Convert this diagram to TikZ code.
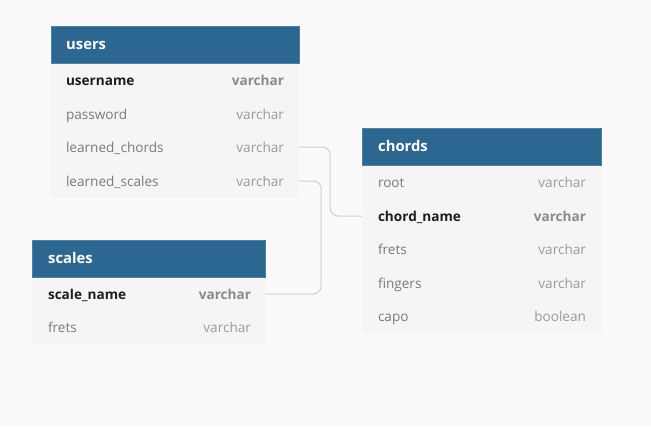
\documentclass[tikz,border=0pt]{standalone}
\usepackage{fontspec}
\setmainfont{Open Sans}
\definecolor{bgc}{HTML}{FAFAFA}
\definecolor{bodyc}{HTML}{F5F5F5}
\definecolor{headc}{HTML}{2B6791}
\definecolor{headline}{HTML}{4A82AB}
\definecolor{fieldc}{HTML}{7A7A7A}
\definecolor{typec}{HTML}{9A9A9A}
\definecolor{keyc}{HTML}{1E1E1E}
\definecolor{keytypec}{HTML}{8A8A8A}
\definecolor{connc}{HTML}{CFCFCF}
\begin{document}
\begin{tikzpicture}[x=1pt,y=-1pt,
  tbody/.style={fill=bodyc,draw=none},
  thead/.style={fill=headc,draw=headline,line width=0.6pt},
  rowbox/.style={rectangle,inner sep=0pt,minimum height=33pt},
  title/.style={anchor=mid west,inner sep=0pt,yshift=-3pt,text=white,font=\fontsize{14.8}{16}\selectfont\bfseries},
  fname/.style={anchor=mid west,inner sep=0pt,yshift=-3pt,text=fieldc,font=\fontsize{13.6}{15}\selectfont},
  ftype/.style={anchor=mid east,inner sep=0pt,yshift=-3pt,text=typec,font=\fontsize{13.6}{15}\selectfont},
  kname/.style={fname,text=keyc,font=\fontsize{13.6}{15}\selectfont\bfseries},
  ktype/.style={ftype,text=keytypec,font=\fontsize{13.6}{15}\selectfont\bfseries},
  conn/.style={draw=connc,line width=1pt,rounded corners=8pt}]
\useasboundingbox (0,0) rectangle (651,426);
\fill[bgc] (0,0) rectangle (651,426);

% users table
\fill[tbody] (51,63) rectangle (299,198);
\filldraw[thead] (51,26) rectangle (299,63);
\node[title] (uT) at (66,44) {users};
\node[rowbox,minimum width=248pt] (uun) at (175,80) {};
\node[rowbox,minimum width=248pt] (upw) at (175,114) {};
\node[rowbox,minimum width=248pt] (ulc) at (175,147) {};
\node[rowbox,minimum width=248pt] (uls) at (175,181) {};
\node[kname] at ([xshift=15pt]uun.west) {username};
\node[ktype] at ([xshift=-15pt]uun.east) {varchar};
\node[fname] at ([xshift=15pt]upw.west) {password};
\node[ftype] at ([xshift=-15pt]upw.east) {varchar};
\node[fname] at ([xshift=15pt]ulc.west) {learned\_chords};
\node[ftype] at ([xshift=-15pt]ulc.east) {varchar};
\node[fname] at ([xshift=15pt]uls.west) {learned\_scales};
\node[ftype] at ([xshift=-15pt]uls.east) {varchar};

% scales table
\fill[tbody] (32,277) rectangle (265,344);
\filldraw[thead] (32,240) rectangle (265,277);
\node[title] (sT) at (48,258) {scales};
\node[rowbox,minimum width=233pt] (ssn) at (148.5,294) {};
\node[rowbox,minimum width=233pt] (sfr) at (148.5,327) {};
\node[kname] at ([xshift=16pt]ssn.west) {scale\_name};
\node[ktype] at ([xshift=-14pt]ssn.east) {varchar};
\node[fname] at ([xshift=16pt]sfr.west) {frets};
\node[ftype] at ([xshift=-14pt]sfr.east) {varchar};

% chords table
\fill[tbody] (362,165) rectangle (601,333);
\filldraw[thead] (362,128) rectangle (601,165);
\node[title] (cT) at (378,146) {chords};
\node[rowbox,minimum width=239pt] (crt) at (481.5,182) {};
\node[rowbox,minimum width=239pt] (ccn) at (481.5,216) {};
\node[rowbox,minimum width=239pt] (cfr) at (481.5,249) {};
\node[rowbox,minimum width=239pt] (cfi) at (481.5,283) {};
\node[rowbox,minimum width=239pt] (ccp) at (481.5,316) {};
\node[fname] at ([xshift=16pt]crt.west) {root};
\node[ftype] at ([xshift=-15pt]crt.east) {varchar};
\node[kname] at ([xshift=16pt]ccn.west) {chord\_name};
\node[ktype] at ([xshift=-15pt]ccn.east) {varchar};
\node[fname] at ([xshift=16pt]cfr.west) {frets};
\node[ftype] at ([xshift=-15pt]cfr.east) {varchar};
\node[fname] at ([xshift=16pt]cfi.west) {fingers};
\node[ftype] at ([xshift=-15pt]cfi.east) {varchar};
\node[fname] at ([xshift=16pt]ccp.west) {capo};
\node[ftype] at ([xshift=-15pt]ccp.east) {boolean};

% connectors
\draw[conn] (ulc.east) -- ++(31,0) |- (ccn.west);
\draw[conn] (uls.east) -- ++(22,0) |- (ssn.east);
\end{tikzpicture}
\end{document}
